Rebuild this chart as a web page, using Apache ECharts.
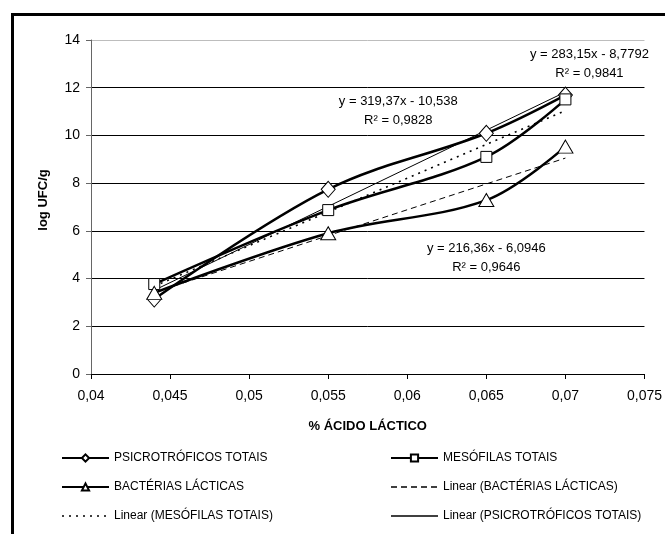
<!DOCTYPE html>
<html>
<head>
<meta charset="utf-8">
<script src="https://cdn.jsdelivr.net/npm/echarts@6/dist/echarts.min.js"></script>
<style>
	html, body { margin: 0; padding: 0; background: #fff; }
	#chart { width: 665px; height: 534px; }
</style>
</head>
<body>
<div id="chart"></div>
<script>
// % ácido láctico
var xValues = [0.044, 0.055, 0.065, 0.07];
// log UFC/g
var psicrotroficos = [3.14, 7.74, 10.09, 11.69];
var mesofilas = [3.77, 6.87, 9.1, 11.51];
var bacterias = [3.4, 5.9, 7.29, 9.53];
// trendline ends (x = 0.044 and x = 0.07)
var trendX = [0.044, 0.07];
var psicroTrend = [3.51, 11.82];
var mesoTrend = [3.68, 11.04];
var bactTrend = [3.42, 9.05];
var xTickLabels = ["0,04", "0,045", "0,05", "0,055", "0,06", "0,065", "0,07", "0,075"];
var yTickLabels = ["0", "2", "4", "6", "8", "10", "12", "14"];
var eqPsicro = "y = 319,37x - 10,538\nR² = 0,9828";
var eqMeso = "y = 283,15x - 8,7792\nR² = 0,9841";
var eqBact = "y = 216,36x - 6,0946\nR² = 0,9646";

var FONT = "Liberation Sans";

function pairs(xs, ys) {
	var out = [];
	for (var i = 0; i < xs.length; i++) {
		out.push([xs[i], ys[i]]);
	}
	return out;
}

function eqLabel(coord, text) {
	return {
		symbol: "rect",
		symbolSize: 1,
		itemStyle: { color: "transparent" },
		data: [{ coord: coord }],
		label: {
			show: true,
			position: "inside",
			formatter: text,
			color: "#000",
			fontFamily: FONT,
			fontSize: 13,
			lineHeight: 19,
			align: "center"
		},
		silent: true
	};
}

var legendBase = {
	orient: "vertical",
	top: 447,
	itemWidth: 47,
	itemHeight: 9,
	itemGap: 17,
	textStyle: { color: "#000", fontSize: 12, fontFamily: FONT }
};

var chart = echarts.init(document.getElementById("chart"));
chart.setOption({
	animation: false,
	backgroundColor: "#fff",
	textStyle: { fontFamily: FONT },
	graphic: [
		{
			type: "rect",
			shape: { x: 12.5, y: 14.5, width: 720, height: 620 },
			style: { fill: "none", stroke: "#000", lineWidth: 3 },
			silent: true
		}
	],
	grid: {
		left: 91,
		right: 20,
		top: 40,
		bottom: 160
	},
	xAxis: {
		type: "value",
		min: 0.04,
		max: 0.075,
		interval: 0.005,
		name: "% ÁCIDO LÁCTICO",
		nameLocation: "middle",
		nameGap: 46,
		nameTextStyle: { color: "#000", fontWeight: "bold", fontSize: 13, fontFamily: FONT },
		axisLine: { lineStyle: { color: "#000", width: 1 } },
		axisTick: { show: true, inside: false, length: 5, lineStyle: { color: "#000" } },
		axisLabel: {
			color: "#000",
			fontSize: 14,
			margin: 15,
			formatter: function (v) {
				return xTickLabels[Math.round((v - 0.04) / 0.005)];
			}
		},
		splitLine: { show: false }
	},
	yAxis: {
		type: "value",
		min: 0,
		max: 14,
		interval: 2,
		name: "log UFC/g",
		nameLocation: "middle",
		nameGap: 41,
		nameTextStyle: {
			color: "#000", fontWeight: "bold", fontSize: 13, fontFamily: FONT,
			padding: [0, 0, 0, 14]
		},
		axisLine: { show: true, lineStyle: { color: "#666", width: 1 } },
		axisTick: { show: true, inside: false, length: 5, lineStyle: { color: "#666" } },
		axisLabel: {
			color: "#000",
			fontSize: 14,
			margin: 11,
			formatter: function (v) {
				return yTickLabels[Math.round(v / 2)];
			}
		},
		splitLine: {
			show: true,
			lineStyle: {
				color: ["#000", "#000", "#000", "#000", "#000", "#000", "#000", "#bdbdbd"],
				width: 1
			}
		}
	},
	legend: [
		Object.assign({}, legendBase, {
			left: 56,
			data: [
				{ name: "PSICROTRÓFICOS TOTAIS", lineStyle: { width: 2 } },
				{ name: "BACTÉRIAS LÁCTICAS", lineStyle: { width: 2 } },
				{ name: "Linear (MESÓFILAS TOTAIS)", lineStyle: { width: 1.5 } }
			]
		}),
		Object.assign({}, legendBase, {
			left: 385,
			data: [
				{ name: "MESÓFILAS TOTAIS", lineStyle: { width: 2 } },
				{ name: "Linear (BACTÉRIAS LÁCTICAS)", lineStyle: { width: 1.6 } },
				{ name: "Linear (PSICROTRÓFICOS TOTAIS)", lineStyle: { width: 1.4 } }
			]
		})
	],
	series: [
		{
			name: "Linear (PSICROTRÓFICOS TOTAIS)",
			type: "line",
			data: pairs(trendX, psicroTrend),
			symbol: "none",
			lineStyle: { color: "#000", width: 1 },
			itemStyle: { color: "rgba(0,0,0,0)", borderWidth: 0 },
			markPoint: eqLabel([0.05943, 11.04], eqPsicro),
			z: 2
		},
		{
			name: "Linear (MESÓFILAS TOTAIS)",
			type: "line",
			data: pairs(trendX, mesoTrend),
			symbol: "none",
			lineStyle: { color: "#000", width: 1.5, type: [2, 5] },
			itemStyle: { color: "rgba(0,0,0,0)", borderWidth: 0 },
			markPoint: eqLabel([0.07152, 13.01], eqMeso),
			z: 2
		},
		{
			name: "Linear (BACTÉRIAS LÁCTICAS)",
			type: "line",
			data: pairs(trendX, bactTrend),
			symbol: "none",
			lineStyle: { color: "#000", width: 1, type: [6, 4] },
			itemStyle: { color: "rgba(0,0,0,0)", borderWidth: 0 },
			markPoint: eqLabel([0.065, 4.86], eqBact),
			z: 2
		},
		{
			name: "PSICROTRÓFICOS TOTAIS",
			type: "line",
			data: pairs(xValues, psicrotroficos),
			smooth: 0.35,
			symbol: "diamond",
			symbolSize: [14, 16],
			showAllSymbol: true,
			lineStyle: { color: "#000", width: 2.5 },
			itemStyle: { color: "#fff", borderColor: "#000", borderWidth: 1 },
			z: 3
		},
		{
			name: "MESÓFILAS TOTAIS",
			type: "line",
			data: pairs(xValues, mesofilas),
			smooth: 0.35,
			symbol: "rect",
			symbolSize: 11,
			showAllSymbol: true,
			lineStyle: { color: "#000", width: 2.5 },
			itemStyle: { color: "#fff", borderColor: "#000", borderWidth: 1 },
			z: 3
		},
		{
			name: "BACTÉRIAS LÁCTICAS",
			type: "line",
			data: pairs(xValues, bacterias),
			smooth: 0.35,
			symbol: "triangle",
			symbolSize: [15, 13],
			showAllSymbol: true,
			lineStyle: { color: "#000", width: 2.5 },
			itemStyle: { color: "#fff", borderColor: "#000", borderWidth: 1 },
			z: 3
		}
	]
});
</script>
</body>
</html>
